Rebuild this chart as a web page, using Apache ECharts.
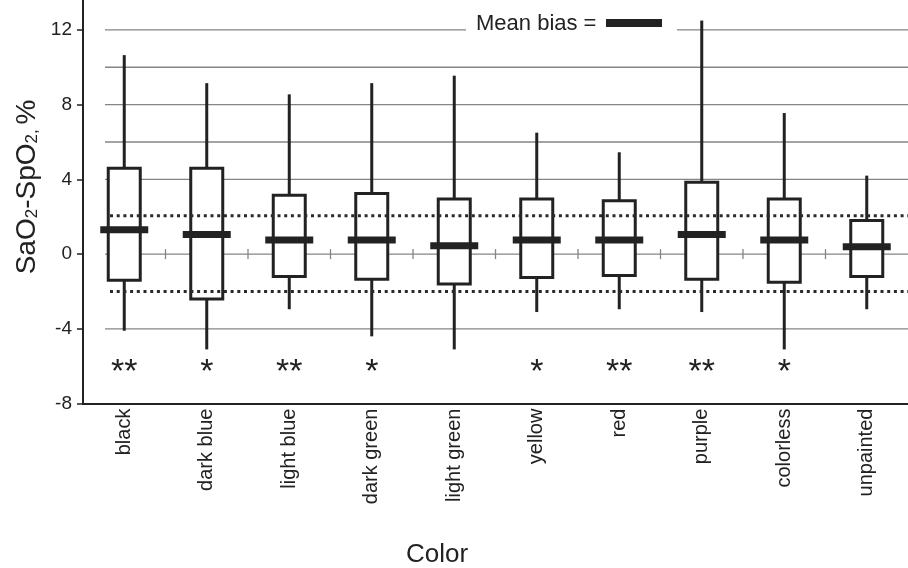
<!DOCTYPE html>
<html><head><meta charset="utf-8">
<script src="https://cdn.jsdelivr.net/npm/echarts@6/dist/echarts.min.js"></script>
<style>html,body{margin:0;padding:0;background:#fff}#c{width:908px;height:568px}</style>
</head><body><div id="c"></div>
<script>
// ---- data ----
const categories = ['black','dark blue','light blue','dark green','light green','yellow','red','purple','colorless','unpainted'];
const whiskerLow  = [-4.1, -5.1, -2.95, -4.4, -5.1, -3.1, -2.95, -3.1, -5.1, -2.95];
const boxLow      = [-1.4, -2.4, -1.2, -1.35, -1.6, -1.25, -1.15, -1.35, -1.5, -1.2];
const boxHigh     = [4.6, 4.6, 3.15, 3.25, 2.95, 2.95, 2.85, 3.85, 2.95, 1.8];
const whiskerHigh = [10.65, 9.15, 8.55, 9.15, 9.55, 6.5, 5.45, 12.5, 7.55, 4.2];
const meanBias    = [1.3, 1.05, 0.75, 0.75, 0.45, 0.75, 0.75, 1.05, 0.75, 0.4];
const significance = ['**','*','**','*','','*','**','**','*',''];
const limitsOfAgreement = [2.05, -2.0];
const gridLevels = [12, 10, 8, 6, 4, 0, -4];
const yTicks = [-8, -4, 0, 4, 8, 12];
const yMin = -8, yMax = 13.6;

const FONT = '"Liberation Sans", Arial, Helvetica, sans-serif';
const INK = '#222';
const starLevel = -6.35;

const chart = echarts.init(document.getElementById('c'));
const boxData = categories.map((c, i) => [i, whiskerLow[i], boxLow[i], boxHigh[i], whiskerHigh[i]]);

const option = {
  animation: false,
  backgroundColor: '#fff',
  grid: { left: 83, top: 0, width: 840, bottom: 164.4, containLabel: false },
  xAxis: {
    type: 'category', data: categories, boundaryGap: true,
    axisLine: { onZero: false, lineStyle: { color: INK, width: 2 } },
    axisTick: { show: false },
    splitLine: { show: false },
    axisLabel: { rotate: 90, fontSize: 20, fontFamily: FONT, color: INK, margin: 5, interval: 0 }
  },
  yAxis: {
    type: 'value', min: yMin, max: yMax,
    axisLine: { show: true, lineStyle: { color: INK, width: 2 } },
    axisTick: { show: true, length: 6, customValues: yTicks, lineStyle: { color: INK, width: 1.5 } },
    splitLine: { show: false },
    axisLabel: { fontSize: 19, fontFamily: FONT, color: INK, margin: 11, customValues: yTicks }
  },
  graphic: [
    { type: 'rect', z: 100, shape: { x: 466, y: 12, width: 211, height: 28 }, style: { fill: '#fff' } },
    { type: 'text', z: 101, x: 476, y: 24, style: { text: 'Mean bias =', font: '22px ' + FONT, fill: INK, verticalAlign: 'middle', align: 'left' } },
    { type: 'rect', z: 101, shape: { x: 606, y: 19, width: 56, height: 8 }, style: { fill: INK } },
    { type: 'text', z: 101, x: 437, y: 555, style: { text: 'Color', font: '26px ' + FONT, fill: INK, align: 'center', verticalAlign: 'middle' } },
    { type: 'text', z: 101, x: 27, y: 187, rotation: Math.PI / 2,
      style: {
        text: '{n|SaO}{s|2}{n|-SpO}{s|2, }{n|%}', align: 'center', verticalAlign: 'middle', fill: INK,
        rich: {
          n: { fontSize: 28, fontFamily: FONT, lineHeight: 28, verticalAlign: 'bottom', fill: INK, color: INK },
          s: { fontSize: 17, fontFamily: FONT, lineHeight: 6, verticalAlign: 'bottom', fill: INK, color: INK }
        }
      } }
  ],
  series: [
    { // horizontal gridlines
      type: 'custom', z: 1, silent: true,
      data: gridLevels.map(v => [0, v]),
      renderItem(params, api) {
        const cs = params.coordSys;
        const y = api.coord([0, api.value(1)])[1];
        return { type: 'line', shape: { x1: cs.x + 22, y1: y, x2: cs.x + cs.width, y2: y }, style: { stroke: '#858585', lineWidth: 1.3 } };
      }
    },
    { // category boundary ticks on zero line
      type: 'custom', z: 1, silent: true,
      data: categories.slice(0, -1).map((c, i) => [i, 0]),
      renderItem(params, api) {
        const p = api.coord([api.value(0), api.value(1)]);
        const half = api.size([1, 0])[0] / 2;
        return { type: 'line', shape: { x1: p[0] + half, y1: p[1] - 5, x2: p[0] + half, y2: p[1] + 5 }, style: { stroke: '#858585', lineWidth: 1.3 } };
      }
    },
    { // boxes and whiskers
      type: 'custom', z: 2, silent: true,
      data: boxData,
      encode: { x: 0, y: [1, 2, 3, 4] },
      renderItem(params, api) {
        const i = api.value(0);
        const x = api.coord([i, 0])[0];
        const yWL = api.coord([i, api.value(1)])[1];
        const yBL = api.coord([i, api.value(2)])[1];
        const yBH = api.coord([i, api.value(3)])[1];
        const yWH = api.coord([i, api.value(4)])[1];
        const ls = { stroke: INK, lineWidth: 3 };
        return { type: 'group', children: [
          { type: 'line', shape: { x1: x, y1: yBH, x2: x, y2: yWH }, style: ls },
          { type: 'line', shape: { x1: x, y1: yBL, x2: x, y2: yWL }, style: ls },
          { type: 'rect', shape: { x: x - 16, y: yBH, width: 32, height: yBL - yBH }, style: { fill: '#fff', stroke: INK, lineWidth: 3 } }
        ] };
      }
    },
    { // limits of agreement (dotted)
      type: 'custom', z: 3, silent: true,
      data: limitsOfAgreement.map(v => [0, v]),
      renderItem(params, api) {
        const cs = params.coordSys;
        const y = api.coord([0, api.value(1)])[1];
        return { type: 'line', shape: { x1: cs.x + 27, y1: y, x2: cs.x + cs.width, y2: y }, style: { stroke: '#2a2a2a', lineWidth: 3, lineDash: [3, 3.7] } };
      }
    },
    { // mean bias bars
      type: 'custom', z: 4, silent: true,
      data: meanBias.map((v, i) => [i, v]),
      renderItem(params, api) {
        const p = api.coord([api.value(0), api.value(1)]);
        return { type: 'rect', shape: { x: p[0] - 24, y: p[1] - 3.5, width: 48, height: 7 }, style: { fill: INK } };
      }
    },
    { // significance stars
      type: 'custom', z: 5, silent: true,
      data: significance.map((s, i) => [i, starLevel]),
      renderItem(params, api) {
        const i = api.value(0);
        const p = api.coord([i, api.value(1)]);
        return { type: 'text', x: p[0], y: p[1], style: { text: significance[i], font: '34px ' + FONT, fill: INK, align: 'center', verticalAlign: 'middle' } };
      }
    }
  ]
};
chart.setOption(option);
</script>
</body></html>
